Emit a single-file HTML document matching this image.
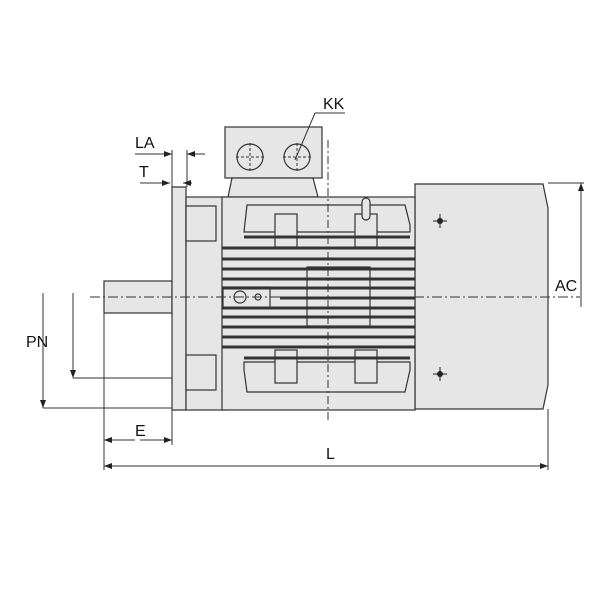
<!DOCTYPE html>
<html><head><style>body{margin:0;background:#fff}svg{display:block}text{font-family:"Liberation Sans",sans-serif;font-size:16px;fill:#111}</style></head><body>
<svg width="600" height="600" viewBox="0 0 600 600" xmlns="http://www.w3.org/2000/svg">
<defs><marker id="a" markerWidth="8" markerHeight="6" refX="8" refY="3" orient="auto"><path d="M0,0L8,3L0,6z" fill="#222"/></marker></defs>
<g stroke="#333" stroke-width="1.2" fill="#e6e6e6">
<!-- fan cover -->
<path d="M415,184H543L548,208V385L543,409H415Z"/>
<!-- shaft -->
<rect x="104" y="281" width="68" height="32"/>
<!-- flange -->
<path d="M172,187H186V410H172Z"/>
<!-- end shield -->
<rect x="186" y="197" width="40" height="213"/>
<rect x="186" y="206" width="30" height="35"/>
<rect x="186" y="355" width="30" height="35"/>
<!-- terminal box -->
<rect x="225" y="127" width="97" height="51"/>
<path d="M232,178H313L318,197H228Z"/>
<circle cx="250" cy="157" r="13"/><circle cx="297" cy="157" r="13"/>
<!-- body -->
<rect x="222" y="197" width="193" height="213"/>
<path d="M247,205H405L410,225V232H244Z"/>
<path d="M244,362H410V370L405,392H247L244,370Z"/>
<rect x="275" y="214" width="22" height="33"/><rect x="355" y="214" width="22" height="33"/>
<rect x="275" y="350" width="22" height="33"/><rect x="355" y="350" width="22" height="33"/>
<rect x="307" y="267" width="63" height="59"/>
<rect x="223" y="287" width="47" height="21"/>
<circle cx="240" cy="297" r="6"/><circle cx="258" cy="297" r="3"/>
<rect x="362" y="198" width="8" height="22" rx="4"/>
</g>
<g stroke="#333" stroke-width="3">
<path d="M244,237H410M222,248H415M222,259H415M222,269H415M222,279H415M222,288H415M222,308H415M222,317H415M222,327H415M222,337H415M222,347H415M244,358H410M280,298H415"/>
</g>
<g stroke="#333" stroke-width="1" fill="none">
<path d="M236,157H264M283,157H311M250,143V171M297,143V171" stroke-dasharray="3 2"/>
<path d="M90,297H580" stroke-dasharray="10 3 2 3"/>
<path d="M328,140V420" stroke-dasharray="8 3 2 3"/>
<path d="M315,113L295,160M315,113H345"/>
<!-- LA / T -->
<path d="M172,150V187M187,150V187"/>
<path d="M135,154H172" marker-end="url(#a)"/><path d="M205,154H187" marker-end="url(#a)"/>
<path d="M140,183H170" marker-end="url(#a)"/><path d="M192,183H183" marker-end="url(#a)"/>
<!-- PN -->
<path d="M43,293V408" marker-end="url(#a)"/><path d="M43,408H172"/>
<path d="M73,293V378" marker-end="url(#a)"/><path d="M73,378H172"/>
<!-- E, L -->
<path d="M104,313V470M172,410V445M548,409V470"/>
<path d="M135,440H104" marker-end="url(#a)"/><path d="M140,440H172" marker-end="url(#a)"/>
<path d="M300,466H104" marker-end="url(#a)"/><path d="M300,466H548" marker-end="url(#a)"/>
<!-- AC -->
<path d="M548,183H584"/><path d="M581,307V183" marker-end="url(#a)"/>
</g>
<g fill="#222"><circle cx="440" cy="221" r="3"/><circle cx="440" cy="374" r="3"/></g>
<g stroke="#222" stroke-width="1"><path d="M433,221H447M440,214V228M433,374H447M440,367V381"/></g>
<text x="323" y="109">KK</text>
<text x="135" y="148">LA</text>
<text x="139" y="177">T</text>
<text x="26" y="347">PN</text>
<text x="135" y="436">E</text>
<text x="326" y="459">L</text>
<text x="555" y="291">AC</text>
</svg>
</body></html>
